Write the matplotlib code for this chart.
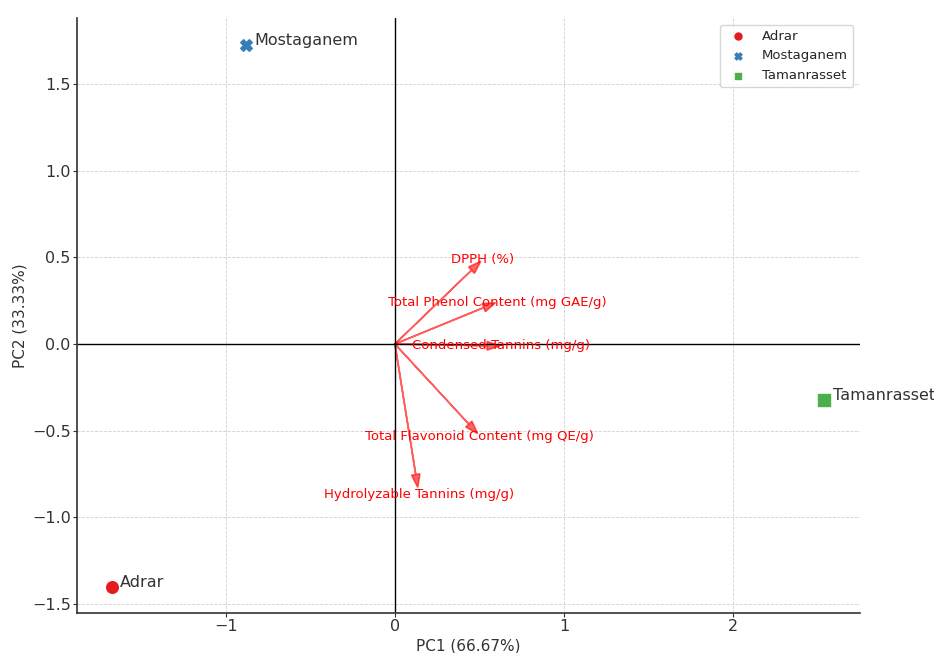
import matplotlib.pyplot as plt
import seaborn as sns

# sample scores on the first two components
sites = ["Adrar", "Mostaganem", "Tamanrasset"]
pc1_scores = [-1.675, -0.882, 2.538]
pc2_scores = [-1.402, 1.725, -0.323]
site_markers = ["o", "X", "s"]
site_colors = ["#e41a1c", "#377eb8", "#4daf4a"]

# variable loadings (arrows)
variables = ["Total Phenol Content (mg GAE/g)", "Total Flavonoid Content (mg QE/g)",
             "Condensed Tannins (mg/g)", "Hydrolyzable Tannins (mg/g)", "DPPH (%)"]
load_pc1 = [0.525, 0.437, 0.545, 0.123, 0.453]
load_pc2 = [0.210, -0.462, -0.010, -0.753, 0.426]

explained = [66.67, 33.33]

sns.set_style("whitegrid", {"grid.linestyle": "--", "grid.color": "#d0d0d0"})
plt.rcParams["font.family"] = ["DejaVu Sans"]

fig = plt.figure(figsize=(9.34, 6.53), dpi=100)
ax = fig.add_axes([0.0824, 0.0613, 0.8384, 0.9111])

for name, x, y, m, c in zip(sites, pc1_scores, pc2_scores, site_markers, site_colors):
    ax.scatter(x, y, marker=m, color=c, s=70, label=name, zorder=3)
    ax.text(x + 0.05, y, name, fontsize=11.5, color="#333333")

for i, var in enumerate(variables):
    ax.arrow(0, 0, load_pc1[i], load_pc2[i], color="r", alpha=0.6,
             head_width=0.05, lw=1.2)
    ax.text(load_pc1[i] * 1.15, load_pc2[i] * 1.15, var, color="r",
            ha="center", va="center", fontsize=9.5)

ax.axhline(0, color="k", lw=1)
ax.axvline(0, color="k", lw=1)

ax.set_xlim(-1.88, 2.75)
ax.set_ylim(-1.552, 1.881)
ax.set_xticks([-1, 0, 1, 2])
ax.set_yticks([-1.5, -1.0, -0.5, 0.0, 0.5, 1.0, 1.5])
ax.grid(True, linestyle="--", linewidth=0.6, color="#d0d0d0")
ax.tick_params(labelsize=11.5, colors="#333333", length=3, pad=1.5, left=True, bottom=True)
for side in ["top", "right"]:
    ax.spines[side].set_visible(False)
for side in ["left", "bottom"]:
    ax.spines[side].set_color("#333333")
    ax.spines[side].set_linewidth(1.2)

ax.set_xlabel(f"PC1 ({explained[0]:.2f}%)", fontsize=11, color="#333333", labelpad=3)
ax.set_ylabel(f"PC2 ({explained[1]:.2f}%)", fontsize=11, color="#333333", labelpad=3)

ax.legend(loc="upper right", fontsize=9.5, frameon=True, markerscale=0.6)

fig.savefig("out.png", dpi=100)
